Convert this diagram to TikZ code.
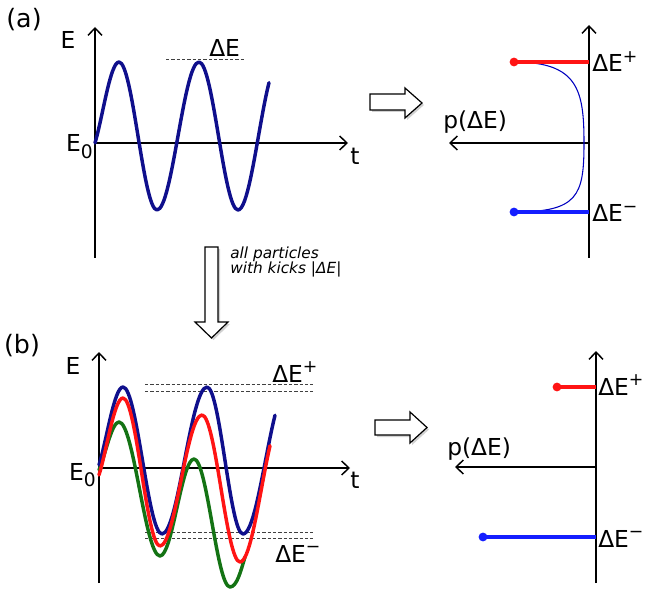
\documentclass[tikz,border=0pt]{standalone}
\usepackage{fontspec}
\setmainfont{DejaVu Sans}
\usetikzlibrary{arrows.meta}
\definecolor{navy}{RGB}{15,15,140}
\definecolor{wred}{RGB}{255,20,20}
\definecolor{wgreen}{RGB}{20,115,20}
\definecolor{lblue}{RGB}{20,30,255}
\newcommand{\supr}[1]{\raisebox{0.42em}{\fontsize{13}{13}\selectfont #1}}
\newcommand{\subz}{\raisebox{-0.28em}{\fontsize{14}{14}\selectfont 0}}
\begin{document}
\begin{tikzpicture}[x=0.75pt,y=-0.75pt,
  lbl/.style={font=\fontsize{17.5}{20}\selectfont, inner sep=0pt},
  plbl/.style={font=\fontsize{19}{22}\selectfont, inner sep=0pt},
  axis/.style={line width=1pt, -{Straight Barb[length=5.5pt,width=10.5pt,line width=1.1pt]}},
  wave/.style={line width=2.6pt, line cap=round, line join=round},
  guide/.style={line width=0.75pt, black!75, dash pattern=on 2.5pt off 1.5pt},
  level/.style={line width=2.4pt},
  blockarrow/.style={draw=black, fill=white, line width=0.9pt, line join=miter},
  shade/.style={fill=black!18, draw=none}]
\useasboundingbox (0,0) rectangle (645,591);

% ---------------- panel (a) ----------------
\node[plbl] (la) at (24,20) {(a)};
\coordinate (aO) at (95,143);
\coordinate (aTop) at (95,27);
\coordinate (aBot) at (95,258);
\coordinate (aRight) at (348,143);
\draw[axis] (aBot) -- (aTop);
\draw[axis] (aO) -- (aRight);
\node[lbl, anchor=center] (aE) at (68,40) {E};
\node[lbl, anchor=base east] (aE0) at (93,152) {E\subz};
\node[lbl, anchor=base west] (at) at (350,165) {t};

\coordinate (dA1) at (166,60);
\coordinate (dA2) at (246,60);
\draw[guide] (dA1) -- (dA2);
\node[lbl, anchor=base west] (aDE) at (209,57) {ΔE};

\draw[wave, navy] (95,143) .. controls (102.8,116.6) and (110.3,62) .. (119,62)
  .. controls (132.8,62) and (143.2,210) .. (157,210)
  .. controls (172.3,210) and (183.7,62) .. (199,62)
  .. controls (213.2,62) and (223.8,210) .. (238,210)
  -- plot[domain=238:269, samples=20] (\x,{136+74*cos(180*(\x-238)/41)});

% right part (a)
\fill[shade] (372,96) -- (407,96) -- (407,90) -- (424,105) -- (407,120) -- (407,112) -- (372,112) -- cycle;
\draw[blockarrow] (370,94) -- (405,94) -- (405,88) -- (422,103) -- (405,118) -- (405,110) -- (370,110) -- cycle;
\coordinate (aRO) at (589,143);
\coordinate (aRTop) at (589,25);
\coordinate (aRBot) at (589,258);
\coordinate (aRLeft) at (449,143);
\draw[axis] (aRBot) -- (aRTop);
\draw[axis] (aRO) -- (aRLeft);
\node[lbl, anchor=base west] (apl) at (443,129) {p(ΔE)};
\coordinate (aRp) at (514,62);
\coordinate (aRm) at (514,212);
\draw[line width=0.8pt, blue!75!black] (aRp) .. controls (578,62) and (584,90) .. (584,143)
  .. controls (584,196) and (578,212) .. (aRm);
\draw[level, wred] (aRp) -- (589,62);
\draw[level, lblue] (aRm) -- (589,212);
\fill[wred] (aRp) circle (3.3pt);
\fill[lblue] (aRm) circle (3.3pt);
\node[lbl, anchor=base west] (aDEp) at (592,72) {ΔE\supr{+}};
\node[lbl, anchor=base west] (aDEm) at (592,222) {ΔE\supr{−}};

% ---------------- transition arrow ----------------
\fill[shade] (207,249) -- (220,249) -- (220,324) -- (230,324) -- (213.5,340) -- (197,324) -- (207,324) -- cycle;
\draw[blockarrow] (205,247) -- (218,247) -- (218,322) -- (228,322) -- (211.5,338) -- (195,322) -- (205,322) -- cycle;
\node[font=\fontsize{11.5}{11.5}\selectfont\itshape, align=left, anchor=base west, inner sep=0pt] (kick) at (230,274) {all particles\\with kicks |ΔE|};

% ---------------- panel (b) ----------------
\node[plbl] (lb) at (22,346) {(b)};
\coordinate (bO) at (99,468);
\coordinate (bTop) at (99,352);
\coordinate (bBot) at (99,583);
\coordinate (bRight) at (350,468);
\draw[axis] (bBot) -- (bTop);
\draw[axis] (bO) -- (bRight);
\node[lbl, anchor=center] (bE) at (73,366) {E};
\node[lbl, anchor=base east] (bE0) at (96,480) {E\subz};
\node[lbl, anchor=base west] (bt) at (350,488) {t};

\draw[guide] (145,384) -- (313,384);
\draw[guide] (145,391) -- (313,391);
\draw[guide] (145,532) -- (313,532);
\draw[guide] (145,538) -- (313,538);
\node[lbl, anchor=base west] (bDEp) at (272,382) {ΔE\supr{+}};
\node[lbl, anchor=base west] (bDEm) at (275,562) {ΔE\supr{−}};

% green
\draw[wave, wgreen] (99,470) .. controls (105.5,454) and (111.8,422) .. (119,422)
  .. controls (133.9,422) and (145.1,556) .. (160,556)
  .. controls (172.4,556) and (181.6,459) .. (194,459)
  .. controls (207.1,459) and (216.9,587) .. (230,587)
  .. controls (237,587) and (241,570) .. (245,557);
% blue
\draw[wave, navy] (99,465) .. controls (106.8,439.6) and (114.3,387) .. (123,387)
  .. controls (137.2,387) and (147.8,534) .. (162,534)
  .. controls (178.4,534) and (190.6,387) .. (207,387)
  .. controls (220.1,387) and (229.9,534) .. (243,534)
  -- plot[domain=243:275, samples=20] (\x,{460.5+73.5*cos(180*(\x-243)/45)});
% red
\draw[wave, wred] (99,475) .. controls (106.8,450) and (114.3,398) .. (123,398)
  .. controls (136.5,398) and (146.5,546) .. (160,546)
  .. controls (175.3,546) and (186.7,415) .. (202,415)
  .. controls (215.8,415) and (226.2,562) .. (240,562)
  -- plot[domain=240:270, samples=20] (\x,{488.5+73.5*cos(180*(\x-240)/43)});

% right part (b)
\fill[shade] (377,422) -- (412,422) -- (412,414) -- (429,429.5) -- (412,445) -- (412,437) -- (377,437) -- cycle;
\draw[blockarrow] (375,420) -- (410,420) -- (410,412) -- (427,427.5) -- (410,443) -- (410,435) -- (375,435) -- cycle;
\coordinate (bRO) at (596,467);
\coordinate (bRTop) at (596,351);
\coordinate (bRBot) at (596,583);
\coordinate (bRLeft) at (455,467);
\draw[axis] (bRBot) -- (bRTop);
\draw[axis] (bRO) -- (bRLeft);
\node[lbl, anchor=base west] (bpl) at (447,455) {p(ΔE)};
\coordinate (bRp) at (557,387);
\coordinate (bRm) at (483,537);
\draw[level, wred] (bRp) -- (596,387);
\draw[level, lblue] (bRm) -- (596,537);
\fill[wred] (bRp) circle (3.3pt);
\fill[lblue] (bRm) circle (3.3pt);
\node[lbl, anchor=base west] (bRDEp) at (598,395) {ΔE\supr{+}};
\node[lbl, anchor=base west] (bRDEm) at (598,547) {ΔE\supr{−}};
\end{tikzpicture}
\end{document}
